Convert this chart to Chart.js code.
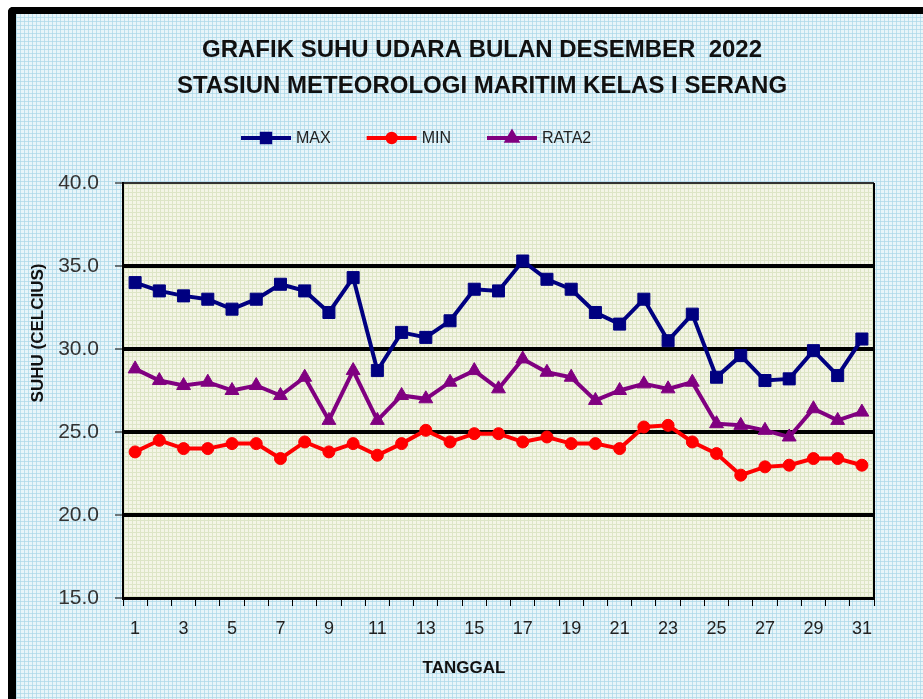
<!DOCTYPE html>
<html>
<head>
<meta charset="utf-8">
<script src="https://cdn.jsdelivr.net/npm/chart.js@4/dist/chart.umd.min.js"></script>
<style>
  html, body { margin:0; padding:0; background:#fff; overflow:hidden; width:923px; height:699px; }
  #frame {
    position:absolute; left:8px; top:7px; width:915px; height:692px;
    border-left:8px solid #000; border-top:7px solid #000; border-top-left-radius:5px;
    background-color:#e8f5f9;
    background-image:
      repeating-linear-gradient(0deg, rgba(170,215,232,0.7) 0 1px, transparent 1px 4px),
      repeating-linear-gradient(90deg, rgba(170,215,232,0.7) 0 1px, transparent 1px 4px);
  }
  #c { position:absolute; left:0; top:0; }
</style>
</head>
<body>
<div id="frame"></div>
<canvas id="c" width="923" height="699"></canvas>
<script>
// ---- data ----
const categories = ["1","2","3","4","5","6","7","8","9","10","11","12","13","14","15","16","17","18","19","20","21","22","23","24","25","26","27","28","29","30","31"];
const maxValues  = [34.0,33.5,33.2,33.0,32.4,33.0,33.9,33.5,32.2,34.3,28.7,31.0,30.7,31.7,33.6,33.5,35.3,34.2,33.6,32.2,31.5,33.0,30.5,32.1,28.3,29.6,28.1,28.2,29.9,28.4,30.6];
const minValues  = [23.8,24.5,24.0,24.0,24.3,24.3,23.4,24.4,23.8,24.3,23.6,24.3,25.1,24.4,24.9,24.9,24.4,24.7,24.3,24.3,24.0,25.3,25.4,24.4,23.7,22.4,22.9,23.0,23.4,23.4,23.0];
const rataValues = [28.8,28.1,27.8,28.0,27.5,27.8,27.2,28.3,25.7,28.7,25.7,27.2,27.0,28.0,28.7,27.6,29.4,28.6,28.3,26.9,27.5,27.9,27.6,28.0,25.5,25.4,25.1,24.7,26.4,25.7,26.2];
const seriesNames = ["MAX","MIN","RATA2"];
const yTicks = [15,20,25,30,35,40];
const titleLines = ["GRAFIK SUHU UDARA BULAN DESEMBER  2022","STASIUN METEOROLOGI MARITIM KELAS I SERANG"];
const xTitle = "TANGGAL";
const yTitle = "SUHU (CELCIUS)";

const colors = ["#000080","#ff0000","#800080"];
const shapes = ["rect","circle","triangle"];
const radii  = [8.5,6,8];

// plot-area pattern
function makePattern(ctx){
  const p = document.createElement('canvas'); p.width = 4; p.height = 4;
  const g = p.getContext('2d');
  g.fillStyle = '#f4f5e6'; g.fillRect(0,0,4,4);
  g.fillStyle = '#dde5c6'; g.fillRect(0,0,4,1); g.fillRect(0,0,1,4);
  return ctx.createPattern(p,'repeat');
}

const decor = {
  id:'decor',
  beforeDraw(chart){
    const {ctx, chartArea:a} = chart;
    ctx.save();
    ctx.fillStyle = makePattern(ctx);
    ctx.fillRect(a.left, a.top, a.right-a.left, a.bottom-a.top);
    ctx.restore();
  },
  beforeDatasetsDraw(chart){
    const {ctx, chartArea:a} = chart;
    ctx.save();
    ctx.strokeStyle = '#000'; ctx.lineWidth = 2;
    ctx.beginPath(); ctx.moveTo(a.right, a.top); ctx.lineTo(a.right, a.bottom); ctx.stroke();
    ctx.restore();
  },
  afterDraw(chart){
    const {ctx} = chart;
    ctx.save();
    // title
    ctx.fillStyle = '#111';
    ctx.font = 'bold 24px "Liberation Sans", Arial, sans-serif';
    ctx.textAlign = 'center'; ctx.textBaseline = 'middle';
    ctx.fillText(titleLines[0], 482, 50);
    ctx.fillText(titleLines[1], 482, 86);
    // legend
    ctx.font = '16px "Liberation Sans", Arial, sans-serif';
    ctx.textAlign = 'left';
    let x = 241; const ly = 138;
    chart.data.datasets.forEach((ds)=>{
      ctx.strokeStyle = ds.borderColor; ctx.lineWidth = 4;
      ctx.beginPath(); ctx.moveTo(x, ly); ctx.lineTo(x+50, ly); ctx.stroke();
      ctx.fillStyle = ds.borderColor;
      ctx.beginPath();
      Chart.helpers.drawPoint(ctx, {pointStyle: ds.pointStyle, rotation:0, radius: ds.pointRadius*0.7, borderWidth:1}, x+25, ly);
      ctx.fill();
      ctx.fillStyle = '#222';
      ctx.fillText(ds.label, x+55, ly+1);
      x += 55 + ctx.measureText(ds.label).width + 36;
    });
    // axis titles
    ctx.fillStyle = '#111';
    ctx.font = 'bold 17px "Liberation Sans", Arial, sans-serif';
    ctx.textAlign = 'center';
    ctx.fillText(xTitle, 464, 668);
    ctx.translate(38, 333); ctx.rotate(-Math.PI/2);
    ctx.fillText(yTitle, 0, 0);
    ctx.restore();
  }
};

const datasets = [maxValues, minValues, rataValues].map((vals,i)=>({
  label: seriesNames[i],
  data: vals,
  borderColor: colors[i],
  backgroundColor: colors[i],
  pointBackgroundColor: colors[i],
  pointBorderColor: colors[i],
  pointStyle: shapes[i],
  pointRadius: radii[i],
  pointBorderWidth: 1,
  borderWidth: 4,
  tension: 0,
  fill: false
}));

new Chart(document.getElementById('c'), {
  type:'line',
  data:{ labels: categories, datasets },
  options:{
    responsive:false, animation:false, devicePixelRatio:1,
    layout:{ padding:{ left:20, top:183, right:49, bottom:61 } },
    plugins:{ legend:{display:false}, title:{display:false}, tooltip:{enabled:false} },
    scales:{
      x:{
        type:'category', offset:true,
        afterFit(s){ s.height = 40; },
        grid:{ display:true, drawOnChartArea:false, offset:true, tickLength:8, tickColor:'#000', tickWidth:1 },
        border:{ display:true, color:'#000', width:3 },
        ticks:{
          autoSkip:false, maxRotation:0, padding:12, color:'#222',
          font:{ family:'"Liberation Sans", Arial, sans-serif', size:18 },
          callback(v, idx){ return idx % 2 === 0 ? categories[idx] : ''; }
        }
      },
      y:{
        min:yTicks[0], max:yTicks[yTicks.length-1],
        afterFit(s){ s.width = 103; },
        afterBuildTicks(s){ s.ticks = yTicks.map(v=>({value:v})); },
        grid:{
          color(c){ return c.tick && c.tick.value === 40 ? '#333' : '#000'; },
          lineWidth(c){ return c.tick && (c.tick.value === 40 || c.tick.value === 15) ? 2 : 4; },
          tickLength:8, tickColor:'#000', tickWidth:1
        },
        border:{ display:true, color:'#000', width:2 },
        ticks:{
          padding:16, color:'#333',
          font:{ family:'"Liberation Sans", Arial, sans-serif', size:21 },
          callback(v){ return Number(v).toFixed(1); }
        }
      }
    }
  },
  plugins:[decor]
});
</script>
</body>
</html>
